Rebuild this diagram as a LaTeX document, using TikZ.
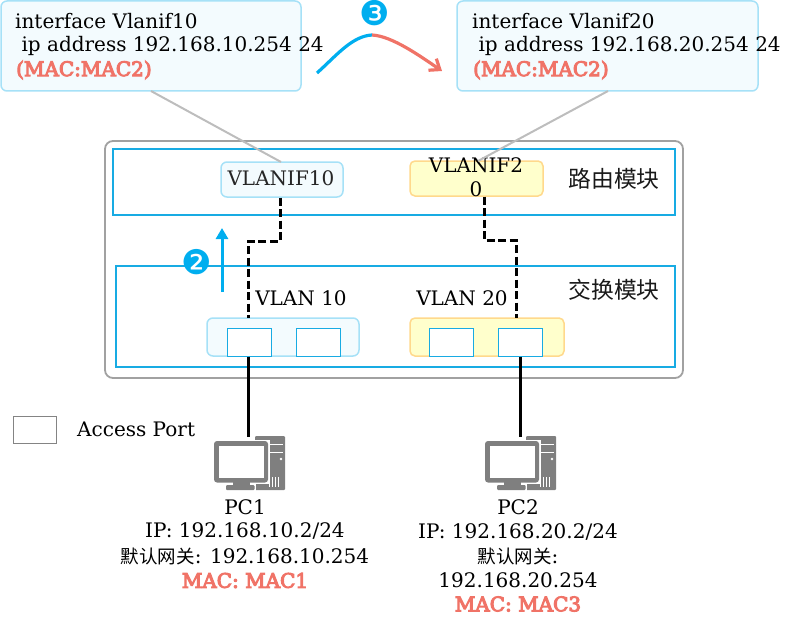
\documentclass[tikz,border=0pt]{standalone}
\usepackage{fontspec}
\usetikzlibrary{arrows.meta}
\setmainfont{DejaVu Serif}
\newfontfamily\cjkf{Noto Sans CJK SC}
\newfontfamily\numf{DejaVu Sans}
\newfontfamily\macf{DejaVu Serif}[FakeBold=5]
\definecolor{lb}{HTML}{A6E1F7}
\definecolor{lbf}{HTML}{F3FBFE}
\definecolor{cy}{HTML}{18ABE3}
\definecolor{ar}{HTML}{00AEEF}
\definecolor{ye}{HTML}{FFFFCC}
\definecolor{yb}{HTML}{FFD98C}
\definecolor{sal}{HTML}{F07367}
\definecolor{gr}{HTML}{BDBDBD}
\definecolor{ic}{HTML}{7F7F7F}
\tikzset{
 x=1pt,y=-1pt,
 lbl/.style={inner sep=0pt,font=\fontsize{20}{24}\selectfont,text=black},
 cjk/.style={inner sep=0pt,font=\cjkf\fontsize{22.8}{26}\selectfont,text=black!90},
 cfg/.style={lbl,anchor=west},
 mac/.style={lbl,font=\macf\fontsize{20}{24}\selectfont,text=sal},
 boxblue/.style={draw=lb,fill=lbf,line width=1.5pt,rounded corners=6pt,minimum width=#1,inner sep=0pt},
 boxyel/.style={draw=yb,fill=ye,line width=1.5pt,rounded corners=5pt,minimum width=#1,inner sep=0pt},
 module/.style={draw=cy,line width=2pt,inner sep=0pt},
 portbox/.style={draw=cy,fill=white,line width=1pt,minimum width=44pt,minimum height=28pt,inner sep=0pt},
 leader/.style={draw=gr,line width=2pt},
 dashlink/.style={draw=black,line width=3pt,dash pattern=on 8pt off 3.5pt},
 sollink/.style={draw=black,line width=3pt},
 badge/.style={inner sep=0pt,text=ar,font=\numf\fontsize{34}{34}\selectfont},
 pc/.pic={
  \fill[ic,rounded corners=1pt] (41,-5) rectangle (71,49);
  \draw[white,line width=0.8pt] (54,3) -- (69,3) (54,11) -- (69,11);
  \fill[white] (67,18) circle (1.4);
  \foreach \i in {55,58,61,64} \fill[white] (\i,36) rectangle +(1.2,10);
  \fill[white] (38,-1.5) rectangle (55.5,43);
  \fill[ic,rounded corners=3pt] (0,0) rectangle (54,41.5);
  \fill[white] (5,5) rectangle (50,37);
  \fill[ic] (19,41) rectangle (36,44);
  \fill[white] (40,43) rectangle (42,50);
  \fill[ic,rounded corners=1pt] (12,44) rectangle (40.5,49);
 }
}
\begin{document}
\begin{tikzpicture}
\useasboundingbox (0,0) rectangle (788,618);
% frames
\node[draw=gr!85!black,line width=1.8pt,rounded corners=8pt,minimum width=578pt,minimum height=237pt,inner sep=0pt] (outer) at (394,259.5) {};
\node[module,minimum width=562pt,minimum height=66pt] (route) at (394,182) {};
\node[module,minimum width=559pt,minimum height=101pt] (switch) at (395.5,316.5) {};
% callouts
\node[boxblue=300pt,minimum height=90pt] (cfgA) at (151,46) {};
\node[boxblue=301pt,minimum height=90pt] (cfgB) at (607.5,46) {};
\node[cfg] (a1) at (15,21.5) {interface Vlanif10};
\node[cfg] (a2) at (15,45.5) {\ ip address 192.168.10.254 24};
\node[mac,anchor=west] (a3) at (16,70) {(MAC:MAC2)};
\node[cfg] (b1) at (472,21.5) {interface Vlanif20};
\node[cfg] (b2) at (472,45.5) {\ ip address 192.168.20.254 24};
\node[mac,anchor=west] (b3) at (473,70) {(MAC:MAC2)};
% interfaces
\node[boxblue=122pt,minimum height=35pt] (vif10) at (282,179.5) {};
\node[lbl,text=black!85] (vif10t) at (281,178.5) {VLANIF10};
\node[boxyel=133pt,minimum height=35pt] (vif20) at (476.5,178.5) {};
\node[lbl,align=center] (vif20t) at (476,177) {VLANIF2\\0};
\node[cjk] (rt) at (614,179) {路由模块};
\node[cjk] (sw) at (614,290) {交换模块};
% leaders
\coordinate (a0) at (151,91); \coordinate (a9) at (281,162);
\coordinate (b0) at (608,91); \coordinate (b9) at (478,161);
\draw[leader] (a0) -- (a9);
\draw[leader] (b0) -- (b9);
% VLAN groups
\node[boxblue=152pt,minimum height=38pt] (v10) at (283,337) {};
\node[boxyel=154pt,minimum height=38pt] (v20) at (487,337) {};
\node[lbl] (v10t) at (301,298) {VLAN 10};
\node[lbl] (v20t) at (462,298) {VLAN 20};
\node[portbox] (p1) at (249,342) {};
\node[portbox] (p2) at (318,342) {};
\node[portbox] (p3) at (451,342) {};
\node[portbox] (p4) at (520,342) {};
% links
\draw[dashlink] (280,197.5) |- (248,241) -- (248,318);
\draw[dashlink] (484,196.5) |- (516,240) -- (516,318);
\coordinate (pc1top) at (248,437); \coordinate (pc2top) at (520,437);
\draw[sollink] (p1.south -| pc1top) -- (pc1top);
\draw[sollink] (p4.south) -- (pc2top);
% flow
\coordinate (up0) at (222,292); \coordinate (up1) at (222,228);
\draw[ar,line width=3pt,-{Triangle[length=11pt,width=12pt]}] (up0) -- (up1);
\fill[white] (196.5,262.5) circle (10);
\node[badge] (n2) at (196.5,262.5) {❷};
\node[badge] (n3) at (375,13.5) {❸};
\coordinate (c0) at (317,73); \coordinate (c1) at (372,35); \coordinate (c2) at (442,71);
\draw[ar,line width=3.2pt] (c0) .. controls (336,56) and (352,36) .. (c1);
\draw[sal,line width=3.2pt,-{Straight Barb[length=9pt,width=14pt]}] (c1) .. controls (392,36) and (420,56) .. (c2);
% legend
\node[draw=gr!70!black,line width=1pt,minimum width=43pt,minimum height=27pt,inner sep=0pt] (leg) at (34.5,429.5) {};
\node[lbl,anchor=west] (legt) at (77,429) {Access Port};
% PCs
\pic at (214,441) {pc};
\pic at (485,441) {pc};
\node[lbl] at (245,507) {PC1};
\node[lbl] at (245,531.5) {IP: 192.168.10.2/24};
\node[lbl] at (245,556.5) {{\cjkf\fontsize{18.5}{20}\selectfont 默认网关}: 192.168.10.254};
\node[mac] at (245,580.5) {MAC: MAC1};
\node[lbl] at (518,507) {PC2};
\node[lbl] at (518,532) {IP: 192.168.20.2/24};
\node[lbl] at (518,556.5) {{\cjkf\fontsize{18.5}{20}\selectfont 默认网关}:};
\node[lbl] at (518,580) {192.168.20.254};
\node[mac] at (518,604) {MAC: MAC3};
\end{tikzpicture}
\end{document}
